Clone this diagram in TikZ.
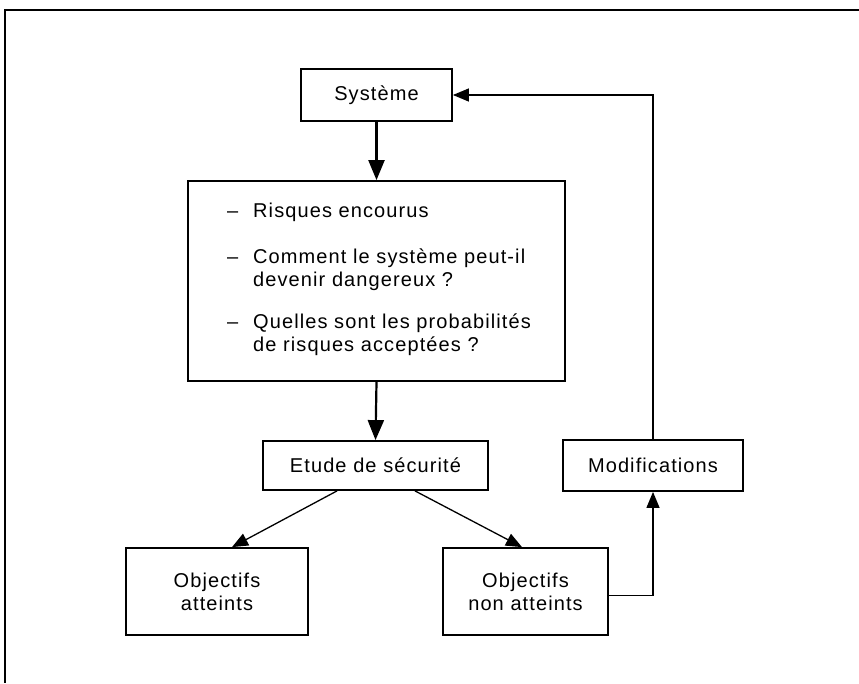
\documentclass[tikz,border=0pt]{standalone}
\usepackage{fontspec}
\setmainfont{Liberation Sans}[LetterSpace=5.5]
\usetikzlibrary{arrows.meta}
\begin{document}
\begin{tikzpicture}[x=1pt,y=-1pt,
  txt/.style={font=\fontsize{20}{23}\selectfont},
  box/.style={draw,line width=1.8pt,inner sep=0pt,align=center,txt},
  bigarrow/.style={line width=2.2pt,-{Triangle[length=20pt,width=16pt]}},
  thinarrow/.style={line width=1.3pt,-{Triangle[length=16pt,width=13pt]}}]
\useasboundingbox (0,0) rectangle (859,683);
% page frame
\draw[line width=1.3pt] (4,10) coordinate (fa) -- (859,10) coordinate (fb);
\draw[line width=1.2pt] (5,10) coordinate (fc) -- (5,683) coordinate (fd);

% boxes
\node[box,minimum width=151pt,minimum height=52pt] (sys) at (376.5,95) {Système};
\node[draw,line width=1.8pt,minimum width=377pt,minimum height=200pt] (big) at (376.5,281) {};
% the list inside the large box; base anchor sits on the last line
\node[txt,anchor=base west,align=left,inner sep=0pt] (risks) at (227,351)
  {\makebox[26pt][l]{–}Risques encourus\\[23pt]
   \makebox[26pt][l]{–}Comment le système peut-il\\
   \hspace*{26pt}devenir dangereux ?\\[19pt]
   \makebox[26pt][l]{–}Quelles sont les probabilités\\
   \hspace*{26pt}de risques acceptées ?};
\node[box,minimum width=225pt,minimum height=49pt] (etude) at (375.5,465.5) {Etude de sécurité};
\node[box,minimum width=180pt,minimum height=51pt] (modif) at (653,465.5) {Modifications};
\node[box,minimum width=182pt,minimum height=87pt] (objA) at (217,591.5) {Objectifs\\atteints};
\node[box,minimum width=165pt,minimum height=87pt] (objB) at (525.5,591.5) {Objectifs\\non atteints};

% connectors
\draw[bigarrow] (sys.south) -- (big.north);
\draw[bigarrow] (big.south) -- (etude.north);
\draw[thinarrow] ([xshift=-38.5pt]etude.south) -- ([xshift=15pt]objA.north);
\draw[thinarrow] ([xshift=39.5pt]etude.south) -- ([xshift=-3.5pt]objB.north);
\draw[thinarrow] ([yshift=-4pt]objB.east) -| (modif.south);
\draw[thinarrow] (modif.north) |- (sys.east);
\end{tikzpicture}
\end{document}
